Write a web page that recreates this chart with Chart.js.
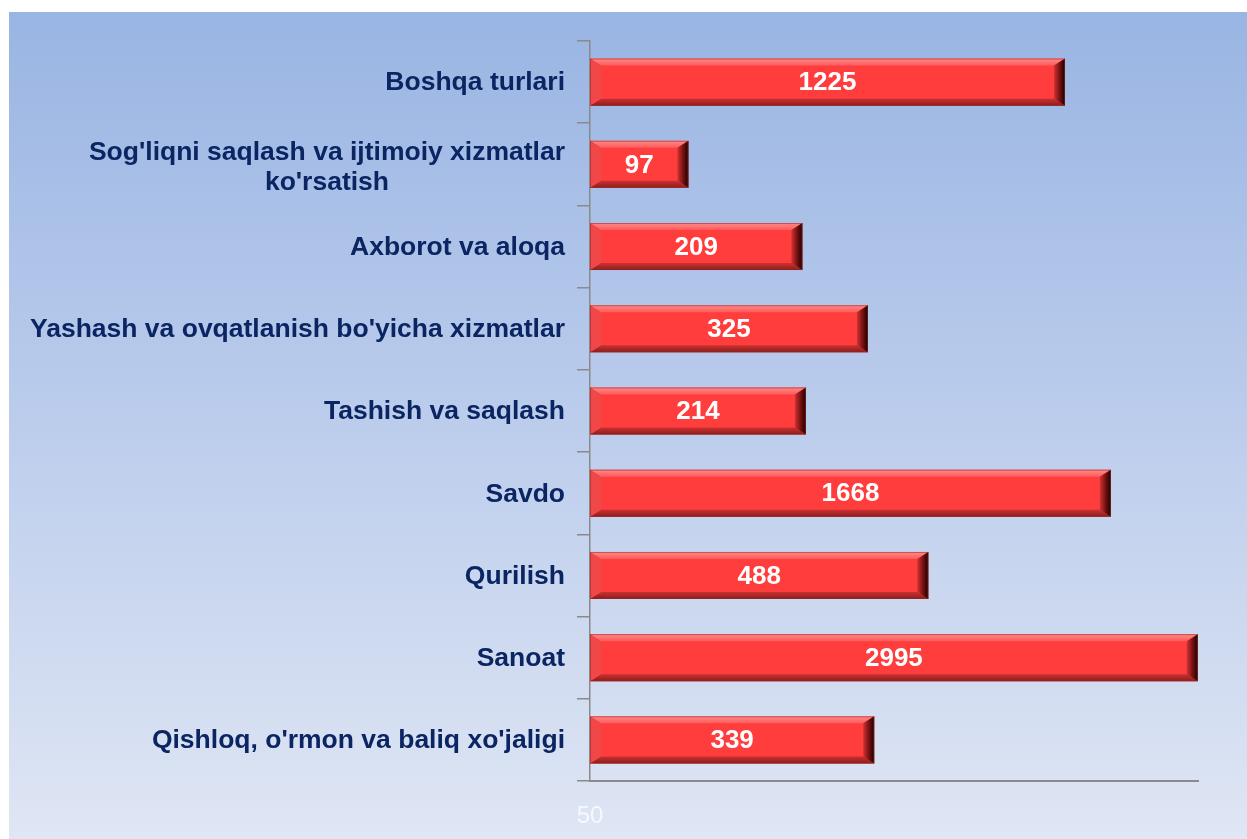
<!DOCTYPE html>
<html><head><meta charset="utf-8">
<script src="https://cdn.jsdelivr.net/npm/chart.js@4.4.0/dist/chart.umd.min.js"></script>
<style>html,body{margin:0;padding:0;background:#fff;overflow:hidden}#wrap{width:1247px;height:839px;position:relative}</style>
</head><body><div id="wrap"><canvas id="c" width="1247" height="839"></canvas></div>
<script>
// ---- data ----
const categories = [
  ["Boshqa turlari"],
  ["Sog'liqni saqlash va ijtimoiy xizmatlar", "ko'rsatish"],
  ["Axborot va aloqa"],
  ["Yashash va ovqatlanish bo'yicha xizmatlar"],
  ["Tashish va saqlash"],
  ["Savdo"],
  ["Qurilish"],
  ["Sanoat"],
  ["Qishloq, o'rmon va baliq xo'jaligi"]
];
const values = [1225, 97, 209, 325, 214, 1668, 488, 2995, 339];
const axisMin = 50;
const axisMax = 3000;
const xTickLabels = [50];

const FONT = '"Liberation Sans", Arial, sans-serif';

const bgPlugin = {
  id: 'bg',
  beforeDraw(chart) {
    const ctx = chart.ctx;
    ctx.save();
    ctx.fillStyle = '#ffffff';
    ctx.fillRect(0, 0, chart.width, chart.height);
    const g = ctx.createLinearGradient(0, 12, 0, chart.height);
    g.addColorStop(0, '#99b5e3');
    g.addColorStop(0.5, '#bccdec');
    g.addColorStop(1, '#dfe6f4');
    ctx.fillStyle = g;
    ctx.fillRect(9, 12, chart.width - 9, chart.height - 12);
    ctx.restore();
  }
};

const bevelPlugin = {
  id: 'bevel',
  afterDatasetsDraw(chart) {
    const ctx = chart.ctx;
    const meta = chart.getDatasetMeta(0);
    ctx.save();
    meta.data.forEach((bar, i) => {
      const L = Math.min(bar.base, bar.x), R = Math.max(bar.base, bar.x);
      const T = bar.y - bar.height / 2, B = bar.y + bar.height / 2;
      const bw = Math.min(11, (R - L) / 3), bh = 7;
      // top bevel
      let g = ctx.createLinearGradient(0, T, 0, T + bh);
      g.addColorStop(0, '#ff8a8a');
      g.addColorStop(1, '#ff5a5a');
      ctx.fillStyle = g;
      ctx.beginPath();
      ctx.moveTo(L, T); ctx.lineTo(R, T); ctx.lineTo(R - bw, T + bh); ctx.lineTo(L + bw, T + bh); ctx.closePath();
      ctx.fill();
      // bottom bevel
      g = ctx.createLinearGradient(0, B - bh, 0, B);
      g.addColorStop(0, '#cc3030');
      g.addColorStop(1, '#8a1e1e');
      ctx.fillStyle = g;
      ctx.beginPath();
      ctx.moveTo(L, B); ctx.lineTo(R, B); ctx.lineTo(R - bw, B - bh); ctx.lineTo(L + bw, B - bh); ctx.closePath();
      ctx.fill();
      // left bevel
      ctx.fillStyle = '#f04848';
      ctx.beginPath();
      ctx.moveTo(L, T); ctx.lineTo(L + bw, T + bh); ctx.lineTo(L + bw, B - bh); ctx.lineTo(L, B); ctx.closePath();
      ctx.fill();
      // right bevel
      g = ctx.createLinearGradient(R - bw, 0, R, 0);
      g.addColorStop(0, '#d03232');
      g.addColorStop(0.55, '#701010');
      g.addColorStop(1, '#1a0000');
      ctx.fillStyle = g;
      ctx.beginPath();
      ctx.moveTo(R, T); ctx.lineTo(R - bw, T + bh); ctx.lineTo(R - bw, B - bh); ctx.lineTo(R, B); ctx.closePath();
      ctx.fill();
      // outline
      ctx.strokeStyle = 'rgba(150,40,40,0.55)';
      ctx.lineWidth = 1;
      ctx.strokeRect(L + 0.5, T + 0.5, R - L - 1, B - T - 1);
      // value label
      ctx.fillStyle = '#ffffff';
      ctx.font = 'bold 26px ' + FONT;
      ctx.textAlign = 'center';
      ctx.textBaseline = 'middle';
      ctx.fillText(String(values[i]), (L + R) / 2, bar.y + 1);
    });
    ctx.restore();
  }
};

const catLabelPlugin = {
  id: 'catLabels',
  afterDraw(chart) {
    const ctx = chart.ctx;
    const ys = chart.scales.y;
    const rightEdge = chart.chartArea.left - 25;
    const lh = 30;
    ctx.save();
    ctx.font = 'bold 26.5px ' + FONT;
    ctx.fillStyle = '#0b2563';
    ctx.textAlign = 'center';
    ctx.textBaseline = 'middle';
    categories.forEach((lines, i) => {
      const yc = ys.getPixelForTick(i);
      const w = Math.max(...lines.map(s => ctx.measureText(s).width));
      const cx = rightEdge - w / 2;
      const y0 = lines.length > 1 ? yc - (lines.length - 1) * lh / 2 + 3 : yc + 1;
      lines.forEach((s, k) => ctx.fillText(s, cx, y0 + k * lh));
    });
    ctx.restore();
  }
};

new Chart(document.getElementById('c'), {
  type: 'bar',
  data: {
    labels: categories,
    datasets: [{
      data: values,
      backgroundColor: '#ff3d3d',
      borderWidth: 0,
      barPercentage: 0.572,
      categoryPercentage: 1
    }]
  },
  options: {
    indexAxis: 'y',
    responsive: false,
    animation: false,
    layout: { padding: { top: 41, right: 49, left: 0, bottom: 0 } },
    plugins: { legend: { display: false }, tooltip: { enabled: false } },
    scales: {
      x: {
        type: 'logarithmic',
        min: axisMin,
        max: axisMax,
        afterFit(s) { s.height = 58; },
        grid: { display: false, drawTicks: false },
        border: { display: true, color: '#8a8a8a', width: 2 },
        ticks: {
          autoSkip: false,
          maxRotation: 0,
          padding: 21,
          color: 'rgba(255,255,255,0.75)',
          font: { family: FONT, size: 24 },
          callback(v) { return xTickLabels.includes(v) ? String(v) : ''; }
        }
      },
      y: {
        type: 'category',
        offset: true,
        afterFit(s) { s.width = 590; },
        grid: { display: true, drawOnChartArea: false, drawTicks: true, tickLength: 13, color: '#8a8a8a', lineWidth: 1.5, offset: true },
        border: { display: true, color: '#8a8a8a', width: 1.5 },
        ticks: { display: false }
      }
    }
  },
  plugins: [bgPlugin, bevelPlugin, catLabelPlugin]
});
</script>
</body></html>
